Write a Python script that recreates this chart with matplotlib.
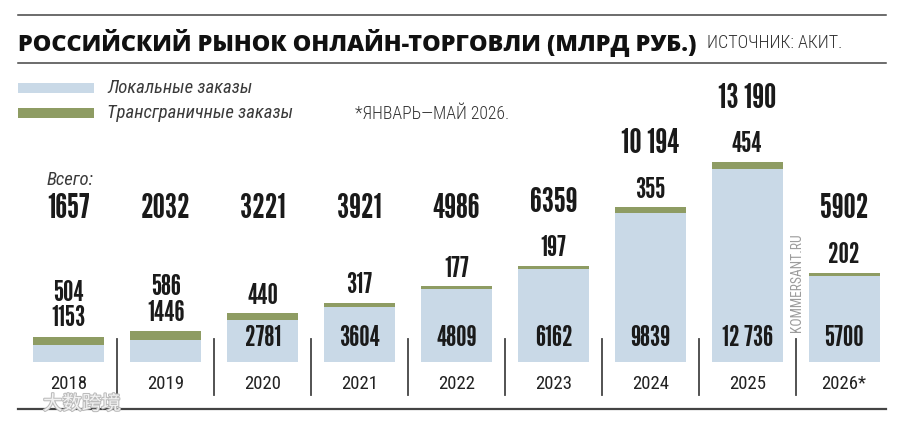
import matplotlib
matplotlib.use("Agg")
import matplotlib.pyplot as plt
import matplotlib.transforms as mtransforms
import matplotlib.patheffects as pe
from matplotlib.patches import Rectangle


# data (млрд руб.)
years = ["2018", "2019", "2020", "2021", "2022", "2023", "2024", "2025", "2026*"]
local_orders = [1153, 1446, 2781, 3604, 4809, 6162, 9839, 12736, 5700]
cross_border = [504, 586, 440, 317, 177, 197, 355, 454, 202]
totals = [1657, 2032, 3221, 3921, 4986, 6359, 10194, 13190, 5902]

BLUE = "#c9d9e7"
OLIVE = "#8e9c63"
DARK = "#1a1a1a"
NUM_FONT = ["League Gothic", "Oswald", "DejaVu Sans"]
COND = ["Roboto Condensed", "DejaVu Sans"]
W, H = 900, 424


def fx(px):
    return px / W


def fy(py):
    return 1 - py / H


def fmt(v):
    s = f"{v:,}".replace(",", " ")
    return s if v >= 10000 else str(v)


fig = plt.figure(figsize=(9, 4.24), dpi=100)
ax = fig.add_axes([0, 0, 1, 1])
ax.axis("off")

# 13190 -> 200 px, baseline at y=362 px
PX = 13190 / 200
ax.set_xlim(-68.9 / 96.9, (W - 68.9) / 96.9)
ax.set_ylim(-(H - 362) * PX, 362 * PX)

x = list(range(len(years)))
ax.bar(x, local_orders, width=0.733, color=BLUE, linewidth=0)
ax.bar(x, cross_border, width=0.733, bottom=local_orders, color=OLIVE, linewidth=0)

blend = mtransforms.blended_transform_factory(ax.transData, fig.transFigure)

for i in x:
    tot = totals[i]
    small = local_orders[i] < 2000
    if small:
        ax.text(i, tot + 18.5 * PX, str(local_orders[i]), ha="center", va="center",
                family=NUM_FONT, fontsize=21, color=DARK)
        trans_y = tot + 44 * PX
    else:
        ax.text(i, 24 * PX, fmt(local_orders[i]), ha="center", va="center",
                family=NUM_FONT, fontsize=21, color=DARK)
        trans_y = tot + 17.5 * PX
    ax.text(i, trans_y, str(cross_border[i]), ha="center", va="center",
            family=NUM_FONT, fontsize=21, color=DARK)
    total_y = max(154 * PX, trans_y + 46 * PX)
    ax.text(i, total_y, fmt(tot), ha="center", va="center",
            family=NUM_FONT, fontsize=25, color=DARK)
    # year labels and separators
    ax.text(i, fy(384), years[i], transform=blend, ha="center", va="center",
            family=COND, fontsize=13.5, color="#222222")
    if i < len(years) - 1:
        ax.plot([i + 0.5, i + 0.5], [fy(395), fy(339)], transform=blend,
                color="#444444", lw=1.3)

# frame lines
for py, lw in [(15, 1.1), (63, 1.1), (409, 1.6)]:
    fig.add_artist(plt.Line2D([fx(18), fx(886)], [fy(py), fy(py)],
                              color="#444444", lw=lw))

fig.text(fx(18), fy(43), "РОССИЙСКИЙ РЫНОК ОНЛАЙН-ТОРГОВЛИ (МЛРД РУБ.)",
         ha="left", va="center", fontsize=16.8, weight=800,
         family=["Open Sans", "DejaVu Sans"], color="#111111")
fig.text(fx(707), fy(43), "ИСТОЧНИК: АКИТ.", ha="left", va="center",
         fontsize=13, weight="light", family=COND, color="#333333")

# legend
fig.add_artist(Rectangle((fx(18), fy(93)), fx(76), 10 / H, transform=fig.transFigure,
                         color=BLUE, lw=0))
fig.add_artist(Rectangle((fx(18), fy(118)), fx(76), 10 / H, transform=fig.transFigure,
                         color=OLIVE, lw=0))
fig.text(fx(107), fy(88), "Локальные заказы", ha="left", va="center",
         fontsize=13.5, style="italic", family=COND, color="#3a3a3a")
fig.text(fx(107), fy(113), "Трансграничные заказы", ha="left", va="center",
         fontsize=13.5, style="italic", family=COND, color="#3a3a3a")
fig.text(fx(355), fy(114), "*ЯНВАРЬ—МАЙ 2026.", ha="left", va="center",
         fontsize=12.8, weight="light", family=COND, color="#333333")
fig.text(fx(47), fy(180), "Всего:", ha="left", va="center",
         fontsize=13.5, style="italic", family=COND, color="#3a3a3a")

fig.text(fx(797), fy(332), "KOMMERSANT.RU", ha="center", va="bottom", rotation=90,
         fontsize=9.8, family=COND, color="#9c9c9c")

# watermark
fig.text(fx(43), fy(404), "大数跨境", ha="left", va="center", fontsize=14,
         family=["Noto Sans CJK SC", "DejaVu Sans"], color="#f2f2f2",
         path_effects=[pe.withStroke(linewidth=1.5, foreground="#bbbbbb")])

fig.savefig("out.png", dpi=100)
